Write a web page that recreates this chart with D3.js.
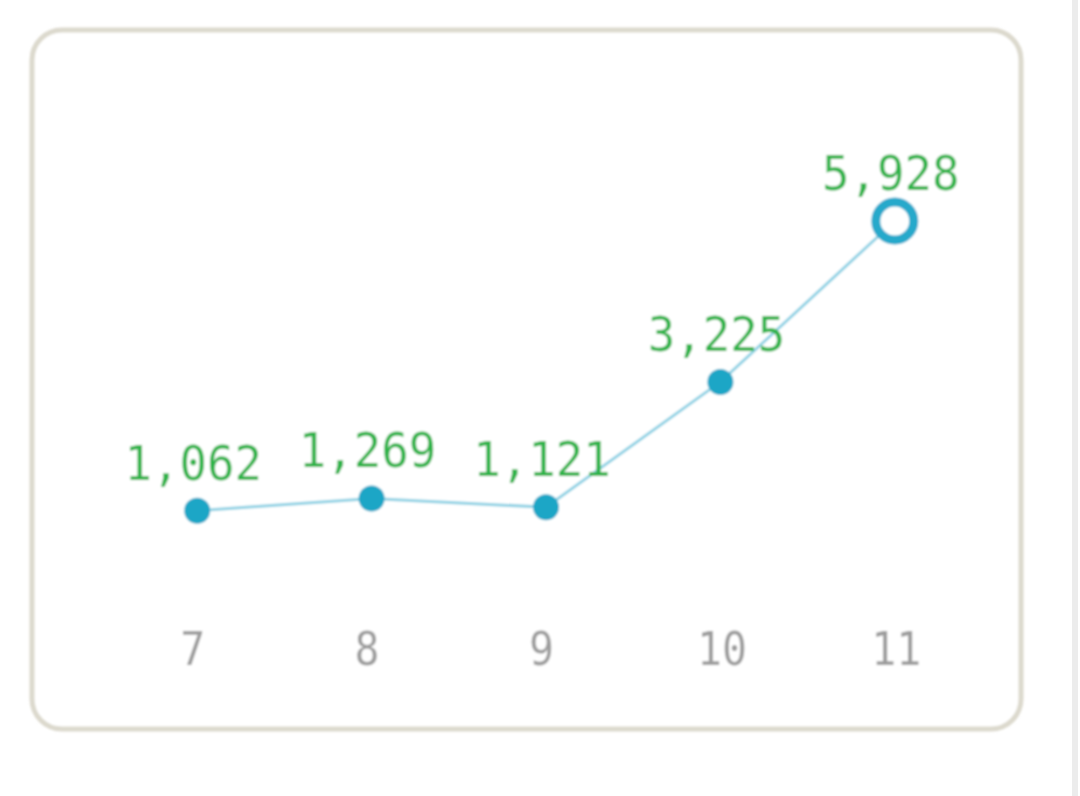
<!DOCTYPE html>
<html>
<head>
<meta charset="utf-8">
<script src="https://cdn.jsdelivr.net/npm/d3@7"></script>
<style>
  html, body { margin: 0; padding: 0; background: #fff; }
  svg { display: block; }
</style>
</head>
<body>
<div id="chart"></div>
<script>
// months on the x axis
const months = ["7", "8", "9", "10", "11"];
// monthly values
const values = [1062, 1269, 1121, 3225, 5928];

const width = 1080;
const height = 796;

const svg = d3.select("#chart")
  .append("svg")
  .attr("width", width)
  .attr("height", height);

// soft edges, the original is an upscaled small image
const defs = svg.append("defs");
defs.append("filter")
  .attr("id", "soft")
  .append("feGaussianBlur")
  .attr("stdDeviation", 1.2);

// strip on the far right
svg.append("rect")
  .attr("x", 1072)
  .attr("y", 0)
  .attr("width", 6)
  .attr("height", height)
  .attr("fill", "#ececec");

const g = svg.append("g").attr("filter", "url(#soft)");

// rounded panel
g.append("rect")
  .attr("x", 32)
  .attr("y", 30)
  .attr("width", 989)
  .attr("height", 699)
  .attr("rx", 30)
  .attr("fill", "#fff")
  .attr("stroke", "#dcd9cd")
  .attr("stroke-width", 5);

const x = d3.scalePoint()
  .domain(months)
  .range([110, 982])
  .padding(0.5);

const y = d3.scaleLinear()
  .domain([0, d3.max(values)])
  .range([574, 221]);

const data = months.map((m, i) => ({ m, v: values[i] }));

// x axis, labels only
const axis = g.append("g")
  .attr("transform", "translate(0,665)")
  .call(d3.axisBottom(x).tickSize(0).tickPadding(0));
axis.select(".domain").remove();
axis.selectAll("text")
  .attr("y", 0)
  .attr("dy", 0)
  .attr("dx", d => d.length === 1 ? -5 : 1)
  .attr("fill", "#9c9c9c")
  .attr("font-family", "DejaVu Sans Mono, monospace")
  .attr("font-size", 46)
  .attr("textLength", d => d.length * 25)
  .attr("lengthAdjust", "spacingAndGlyphs");

// line
g.append("path")
  .datum(data)
  .attr("fill", "none")
  .attr("stroke", "#8fd2e4")
  .attr("stroke-width", 3)
  .attr("d", d3.line().x(d => x(d.m)).y(d => y(d.v)));

// points, last one is open
g.selectAll("circle.pt")
  .data(data.slice(0, -1))
  .enter()
  .append("circle")
  .attr("class", "pt")
  .attr("cx", d => x(d.m))
  .attr("cy", d => y(d.v))
  .attr("r", 13)
  .attr("fill", "#1fa6c6");

const last = data[data.length - 1];
g.append("circle")
  .attr("cx", x(last.m))
  .attr("cy", y(last.v))
  .attr("r", 19)
  .attr("fill", "#fff")
  .attr("stroke", "#25a9cb")
  .attr("stroke-width", 9);

// value labels
g.selectAll("text.val")
  .data(data)
  .enter()
  .append("text")
  .attr("class", "val")
  .attr("x", d => x(d.m) - 4)
  .attr("y", d => y(d.v) - 31)
  .attr("text-anchor", "middle")
  .attr("fill", "#2fb34a")
  .attr("font-family", "DejaVu Sans Mono, monospace")
  .attr("font-size", 48)
  .attr("textLength", d => d3.format(",")(d.v).length * 27.5)
  .attr("lengthAdjust", "spacingAndGlyphs")
  .text(d => d3.format(",")(d.v));
</script>
</body>
</html>
